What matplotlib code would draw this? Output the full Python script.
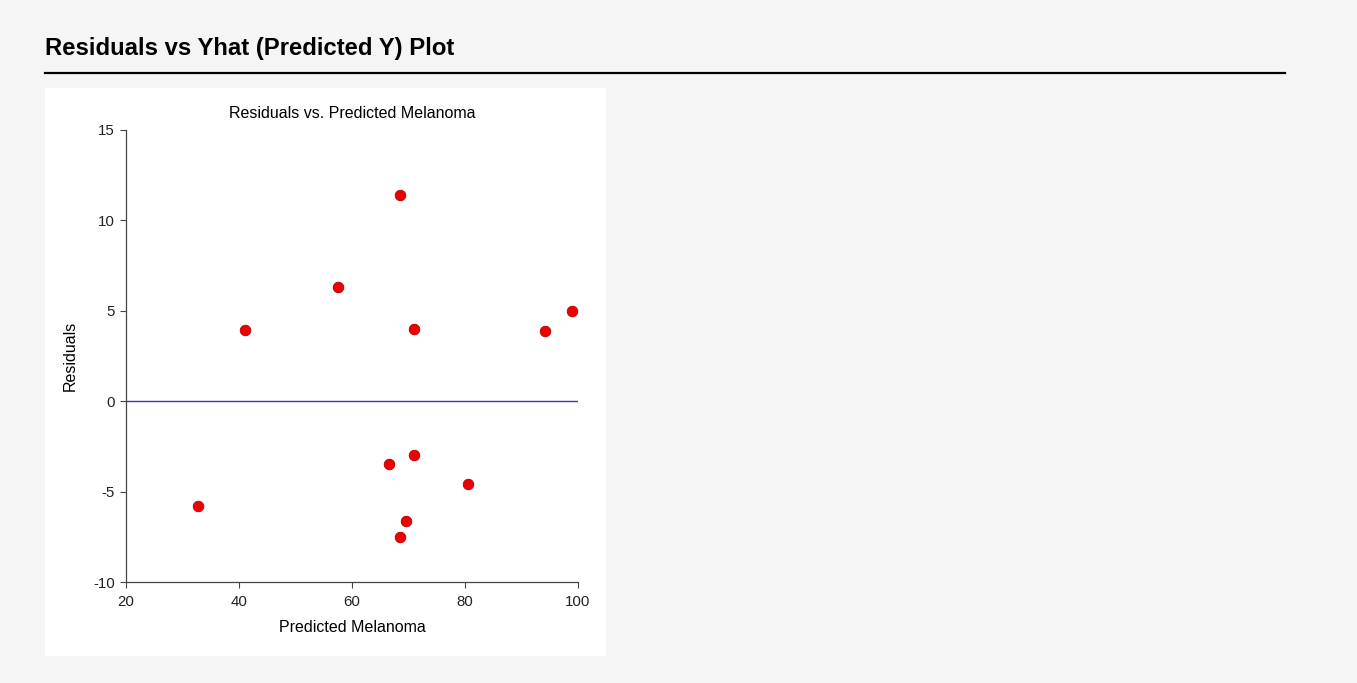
import matplotlib
matplotlib.use("Agg")
import matplotlib.pyplot as plt
from matplotlib.patches import Rectangle
from matplotlib.lines import Line2D

plt.rcParams['font.family'] = ['Liberation Sans', 'DejaVu Sans']
plt.rcParams['axes.unicode_minus'] = False

# Data
predicted = [32.7, 41.0, 57.6, 68.5, 71.0, 94.1, 99.0, 66.5, 71.0, 80.5, 69.6, 68.5]
residuals = [-5.77, 3.95, 6.31, 11.40, 3.98, 3.86, 4.99, -3.46, -3.00, -4.56, -6.60, -7.49]

x_ticks = [20, 40, 60, 80, 100]
y_ticks = [-10, -5, 0, 5, 10, 15]

W, H = 1357, 683
fig = plt.figure(figsize=(W / 100, H / 100), dpi=100)
fig.patch.set_facecolor('#f5f5f5')

# white panel
fig.patches.append(Rectangle((45 / W, 1 - 656 / H), (606 - 45) / W, (656 - 88) / H,
                             transform=fig.transFigure, facecolor='white',
                             edgecolor='none', zorder=0))

# page title and rule
fig.text(45 / W, 1 - 48 / H, 'Residuals vs Yhat (Predicted Y) Plot',
         fontsize=17.2, fontweight='bold', ha='left', va='center', color='black')
fig.lines.append(Line2D([45 / W, 1285 / W], [1 - 73 / H, 1 - 73 / H],
                        transform=fig.transFigure, color='black', linewidth=1.6))

ax = fig.add_axes([126 / W, 1 - 582 / H, (578 - 126) / W, (582 - 130) / H])
ax.set_zorder(5)
ax.set_facecolor('none')

ax.axhline(0, color='#3a3ac8', linewidth=1.0, zorder=1)
ax.scatter(predicted, residuals, s=58, color='#ee0000', edgecolors='#b00000',
           linewidths=0.6, zorder=3)

ax.set_xlim(20, 100)
ax.set_ylim(-10, 15)
ax.set_xticks(x_ticks)
ax.set_yticks(y_ticks)
ax.tick_params(axis='both', direction='out', length=4, width=0.8, color='#444444',
               labelsize=10.8, labelcolor='#222222')
ax.tick_params(axis='x', pad=5)
ax.tick_params(axis='y', pad=4)

for s in ['top', 'right']:
    ax.spines[s].set_visible(False)
for s in ['left', 'bottom']:
    ax.spines[s].set_color('#444444')
    ax.spines[s].set_linewidth(0.9)

fig.text(352 / W, 1 - 113 / H, 'Residuals vs. Predicted Melanoma',
         fontsize=11.5, ha='center', va='center', color='black')
fig.text(352 / W, 1 - 628 / H, 'Predicted Melanoma',
         fontsize=11.5, ha='center', va='center', color='black')
fig.text(70 / W, 1 - 356 / H, 'Residuals', rotation=90,
         fontsize=11.5, ha='center', va='center', color='black')

fig.savefig('out.png', dpi=100, facecolor=fig.get_facecolor())
